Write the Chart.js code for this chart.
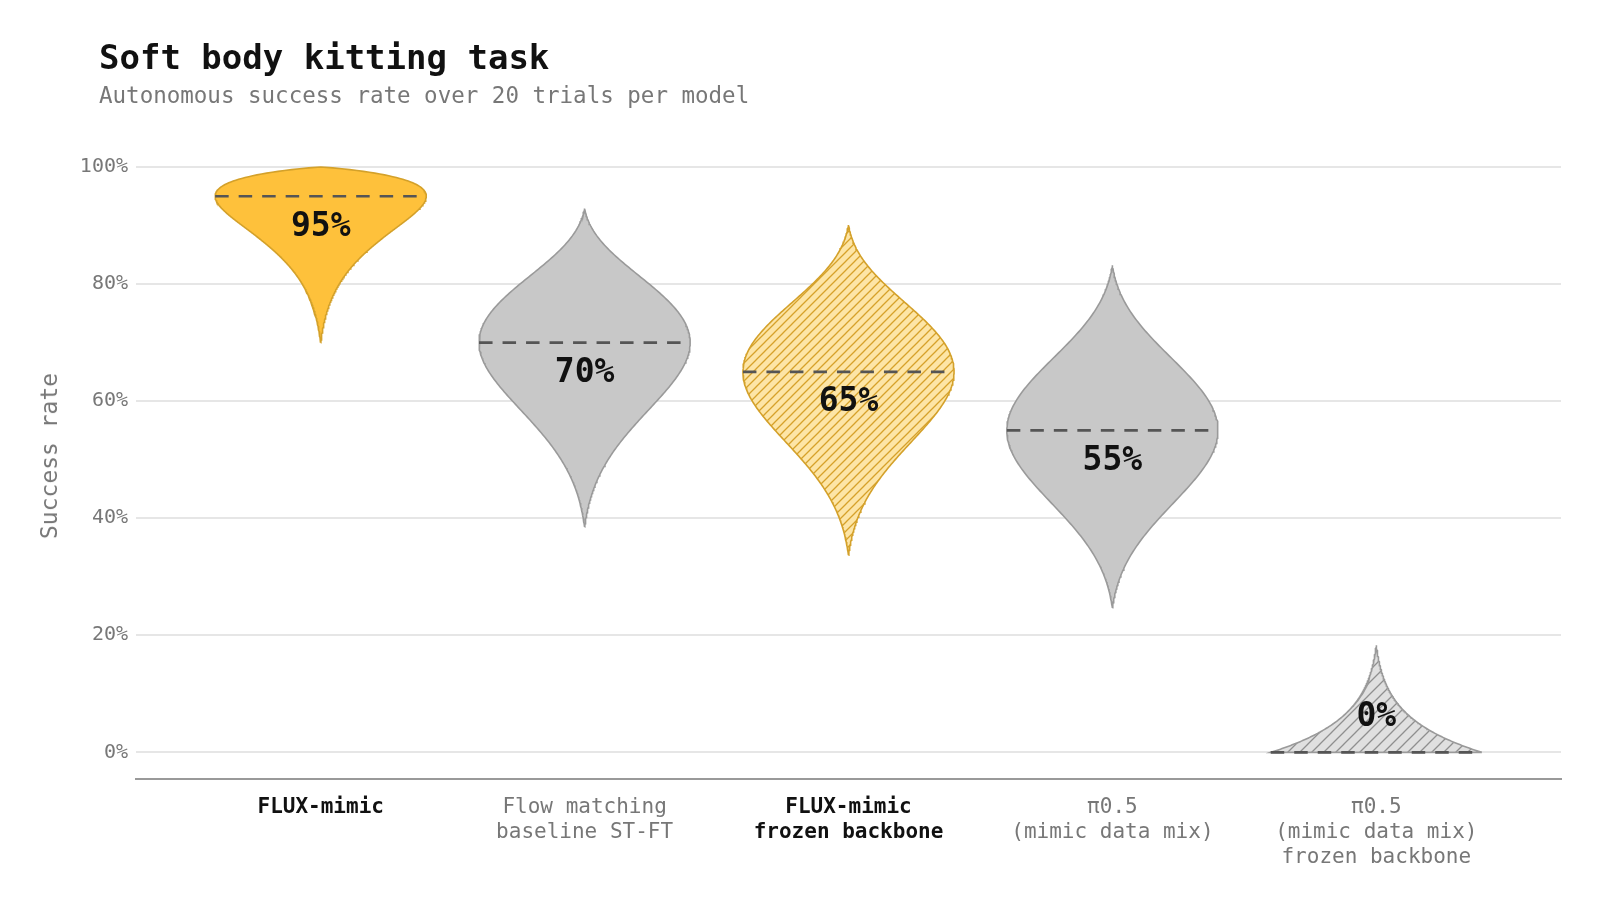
<!DOCTYPE html>
<html>
<head>
<meta charset="utf-8">
<script src="https://cdn.jsdelivr.net/npm/chart.js@4.4.1/dist/chart.umd.min.js"></script>
<style>
  body { margin: 0; background: #fff; font-family: "DejaVu Sans Mono", monospace; }
  #wrap { position: relative; width: 1600px; height: 916px; }
  #myChart { position: absolute; left: 0; top: 0; }
  #title { position: absolute; left: 99px; top: 40px; font-size: 34px; font-weight: bold; line-height: 1; color: #111; white-space: nowrap; }
  #subtitle { position: absolute; left: 99px; top: 84px; font-size: 22.5px; line-height: 1; color: #777; white-space: nowrap; }
  #ytitle { position: absolute; left: 49px; top: 456px; font-size: 23px; color: #777; white-space: nowrap;
            transform: translate(-50%, -50%) rotate(-90deg); }
</style>
</head>
<body>
<div id="wrap">
  <canvas id="myChart" width="1600" height="916"></canvas>
  <div id="title">Soft body kitting task</div>
  <div id="subtitle">Autonomous success rate over 20 trials per model</div>
  <div id="ytitle">Success rate</div>
</div>
<script>
// models on the x axis (multi line labels)
const models = [
  ['FLUX-mimic'],
  ['Flow matching', 'baseline ST-FT'],
  ['FLUX-mimic', 'frozen backbone'],
  ['π0.5', '(mimic data mix)'],
  ['π0.5', '(mimic data mix)', 'frozen backbone']
];
const trials = 20;
const successes = [19, 14, 13, 11, 0];
// extent of each violin (%)
const violinLow = [70, 38.5, 33.7, 24.7, 0];
const violinHigh = [100, 92.9, 90.1, 83.2, 18.3];
const yTicks = [0, 20, 40, 60, 80, 100];
const oursIdx = [0, 2];     // FLUX-mimic models, gold + bold label
const frozenIdx = [2, 4];   // frozen backbone, hatched

const rates = successes.map(s => Math.round(s / trials * 100));
const FONT = '"DejaVu Sans Mono", monospace';
const halfWidth = 0.4;

// posterior density of the success rate (beta), relative to its peak
function relDensity(y, s, n) {
  const a = s + 1, b = n - s + 1, m = s / n;
  const lf = q => (a - 1 ? (a - 1) * Math.log(q) : 0) + (b - 1 ? (b - 1) * Math.log(1 - q) : 0);
  const r = Math.exp(lf(y / 100) - lf(m));
  return isFinite(r) ? r : 0;
}
function relp(i, y) {
  return Math.pow(relDensity(y, successes[i], trials), 0.85);
}
// half width, tapered so each side closes to a point at the violin's end
function violinWidth(i, y) {
  const end = y >= rates[i] ? violinHigh[i] : violinLow[i];
  let e = relp(i, end);
  if (e > 0.5) e = 0;
  return halfWidth * Math.max(0, relp(i, y) - e) / (1 - e);
}

function violinPoints(i) {
  const lo = violinLow[i], hi = violinHigh[i], steps = 200;
  const right = [], left = [];
  for (let k = 0; k <= steps; k++) {
    const y = lo + (hi - lo) * k / steps;
    const w = violinWidth(i, y);
    right.push({x: i + w, y: y});
    left.unshift({x: i - w, y: y});
  }
  const pts = right.concat(left);
  pts.push(pts[0]);
  return pts;
}

const ctx = document.getElementById('myChart').getContext('2d');

function hatch(bg, line, size) {
  const c = document.createElement('canvas');
  c.width = size; c.height = size;
  const x = c.getContext('2d');
  x.fillStyle = bg;
  x.fillRect(0, 0, size, size);
  x.strokeStyle = line;
  x.lineWidth = 1.3;
  x.beginPath();
  x.moveTo(0, size); x.lineTo(size, 0);
  x.moveTo(-size / 2, size / 2); x.lineTo(size / 2, -size / 2);
  x.moveTo(size / 2, size * 1.5); x.lineTo(size * 1.5, size / 2);
  x.stroke();
  return ctx.createPattern(c, 'repeat');
}

function violinFill(i) {
  const ours = oursIdx.includes(i), frozen = frozenIdx.includes(i);
  if (ours && frozen) return hatch('#fde5a6', '#d6a12a', 9);
  if (ours) return '#fec13b';
  if (frozen) return hatch('#e0e0e0', '#8f8f8f', 12);
  return '#c8c8c8';
}
function violinBorder(i) {
  return oursIdx.includes(i) ? '#d4a12a' : '#9a9a9a';
}

const datasets = [];
// mean lines on top
rates.forEach((r, i) => {
  const w = violinWidth(i, r);
  datasets.push({
    data: [{x: i - w, y: r}, {x: i + w, y: r}],
    showLine: true,
    borderColor: '#555',
    borderWidth: 2.6,
    borderDash: [13.5, 10],
    pointRadius: 0,
    fill: false,
    clip: false,
    order: 0
  });
});
models.forEach((m, i) => {
  datasets.push({
    data: violinPoints(i),
    showLine: true,
    borderColor: violinBorder(i),
    borderWidth: 1.6,
    backgroundColor: violinFill(i),
    pointRadius: 0,
    tension: 0,
    fill: 'shape',
    clip: false,
    order: 1
  });
});

const valueLabels = {
  id: 'valueLabels',
  afterDatasetsDraw(chart) {
    const c = chart.ctx, xs = chart.scales.x, ys = chart.scales.y;
    c.save();
    c.font = 'bold 33px ' + FONT;
    c.fillStyle = '#111';
    c.textAlign = 'center';
    c.textBaseline = 'middle';
    rates.forEach((r, i) => {
      // below the mean line, or above it when the violin ends there
      const ly = (r - 5.3 < violinLow[i]) ? r + 6 : r - 5.3;
      c.fillText(r + '%', xs.getPixelForValue(i), ys.getPixelForValue(ly));
    });
    c.restore();
  }
};

const myChart = new Chart(ctx, {
  type: 'scatter',
  data: {datasets: datasets},
  plugins: [valueLabels],
  options: {
    responsive: false,
    animation: false,
    layout: {padding: {top: 167, right: 39, left: 0, bottom: 0}},
    plugins: {legend: {display: false}, tooltip: {enabled: false}},
    scales: {
      x: {
        type: 'linear',
        min: -0.7,
        max: 4.7,
        afterBuildTicks: s => { s.ticks = models.map((m, i) => ({value: i})); },
        afterFit: s => { s.height = 137; },
        grid: {display: false, drawTicks: false},
        border: {display: true, color: '#999', width: 2},
        ticks: {
          padding: 16,
          autoSkip: false,
          maxRotation: 0,
          callback: v => models[v],
          color: c => oursIdx.includes(c.index) ? '#111' : '#777',
          font: c => ({family: FONT, size: 21, lineHeight: 1.2, weight: oursIdx.includes(c.index) ? 'bold' : 'normal'})
        }
      },
      y: {
        min: -4.55,
        max: 100,
        afterBuildTicks: s => { s.ticks = yTicks.map(v => ({value: v})); },
        afterFit: s => { s.width = 136; },
        border: {display: false},
        grid: {color: '#e6e6e6', lineWidth: 2, drawTicks: false},
        ticks: {
          padding: 8,
          color: '#777',
          font: {family: FONT, size: 20},
          callback: v => v + '%'
        }
      }
    }
  }
});
</script>
</body>
</html>
